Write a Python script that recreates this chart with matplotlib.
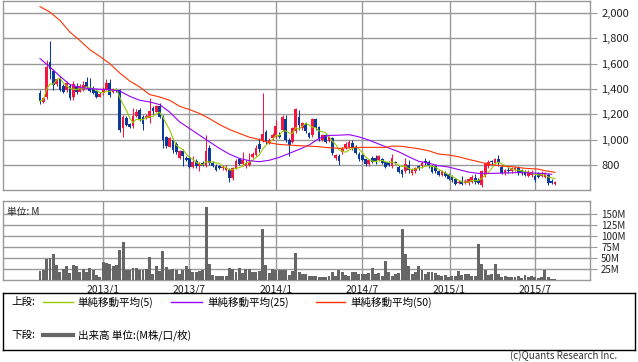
import matplotlib
matplotlib.use("Agg")
import matplotlib.pyplot as plt
import numpy as np
import pandas as pd

plt.rcParams['font.family'] = ['Noto Sans CJK JP', 'DejaVu Sans']

# weekly candles (2012/8 - 2015/8), yen
opens = [1370, 1300, 1335, 1610, 1545, 1440, 1480, 1425, 1395, 1425, 1340, 1425, 1380, 1390, 1455, 1410,
         1400, 1385, 1340, 1365, 1400, 1450, 1375, 1395, 1390, 1090, 1175, 1125, 1105, 1190, 1235, 1180,
         1175, 1170, 1250, 1220, 1265, 1180, 1020, 945, 1000, 970, 855, 915, 860, 860, 785, 835,
         790, 820, 790, 935, 820, 795, 790, 775, 765, 765, 700, 780, 845, 810, 790, 800, 865, 880,
         970, 990, 1060, 978, 1010, 1025, 1040, 1078, 1165, 1000, 985, 1065, 1180, 1090, 1125, 1050,
         1035, 1160, 1100, 1000, 1035, 990, 1010, 855, 870, 900, 935, 945, 975, 945, 890, 880,
         845, 805, 855, 853, 840, 845, 827, 825, 790, 827, 787, 760, 750, 800, 735, 750,
         790, 790, 830, 825, 792, 790, 750, 725, 740, 730, 710, 690, 660, 672, 660, 660,
         670, 700, 685, 640, 720, 790, 830, 815, 845, 787, 735, 765, 750, 765, 775, 760,
         750, 715, 720, 715, 735, 715, 710, 722, 677, 652]
highs = [1390, 1340, 1625, 1775, 1560, 1490, 1500, 1440, 1460, 1440, 1460, 1445, 1440, 1465, 1495, 1490,
         1420, 1400, 1375, 1415, 1475, 1475, 1410, 1405, 1400, 1195, 1190, 1135, 1250, 1245, 1250, 1195,
         1200, 1325, 1265, 1275, 1290, 1195, 1030, 1020, 1010, 985, 920, 930, 870, 875, 870, 850,
         825, 830, 1040, 955, 830, 805, 800, 800, 800, 775, 785, 845, 855, 905, 840, 895, 900, 955,
         1010, 1365, 1075, 1010, 1050, 1155, 1060, 1195, 1195, 1010, 1100, 1250, 1235, 1140, 1140, 1060,
         1170, 1170, 1110, 1045, 1045, 1030, 1020, 890, 885, 945, 985, 995, 1000, 955, 900, 890,
         855, 850, 870, 880, 880, 855, 835, 835, 890, 835, 800, 770, 855, 840, 780, 785,
         800, 830, 855, 840, 800, 800, 760, 760, 750, 740, 720, 700, 680, 715, 690, 700,
         720, 730, 695, 760, 825, 840, 840, 855, 880, 800, 770, 790, 785, 790, 790, 770,
         760, 760, 760, 735, 745, 750, 745, 735, 690, 675]
lows = [1280, 1290, 1320, 1480, 1395, 1420, 1385, 1370, 1380, 1310, 1315, 1360, 1375, 1385, 1405, 1375,
        1360, 1330, 1335, 1355, 1390, 1340, 1365, 1375, 1060, 1025, 1105, 1090, 1095, 1180, 1150, 1075,
        1165, 1130, 1200, 1215, 1170, 935, 935, 940, 895, 890, 850, 790, 830, 775, 780, 780,
        750, 790, 785, 800, 785, 750, 770, 765, 750, 670, 685, 770, 800, 790, 775, 795, 860, 870,
        905, 980, 970, 970, 1000, 1015, 1010, 1070, 985, 870, 975, 1050, 1075, 1080, 1055, 1015,
        1025, 1080, 990, 990, 975, 980, 880, 840, 800, 890, 925, 935, 920, 885, 835, 830,
        795, 795, 820, 805, 830, 805, 780, 795, 775, 805, 735, 710, 735, 735, 725, 740,
        765, 780, 800, 775, 740, 740, 715, 715, 705, 680, 665, 640, 650, 645, 650, 645,
        660, 650, 650, 630, 710, 780, 800, 810, 790, 730, 725, 735, 740, 755, 725, 725,
        715, 705, 710, 670, 700, 705, 700, 645, 650, 645]
closes = [1305, 1325, 1570, 1560, 1430, 1475, 1395, 1380, 1445, 1330, 1440, 1380, 1425, 1430, 1415, 1385,
          1370, 1335, 1360, 1400, 1450, 1355, 1400, 1385, 1080, 1180, 1120, 1100, 1190, 1215, 1160, 1125,
          1185, 1225, 1225, 1265, 1180, 1000, 950, 1010, 920, 905, 910, 870, 840, 785, 825, 790,
          810, 795, 915, 815, 795, 765, 780, 785, 780, 700, 775, 835, 810, 840, 815, 825, 890, 935,
          930, 1045, 985, 1000, 1040, 1105, 1020, 1180, 1000, 960, 1090, 1245, 1115, 1128, 1065, 1025,
          1160, 1090, 1005, 1035, 985, 1020, 895, 880, 830, 930, 970, 985, 935, 895, 845, 840,
          805, 840, 827, 830, 870, 815, 788, 800, 853, 815, 748, 730, 810, 760, 770, 775,
          775, 820, 815, 790, 748, 750, 725, 750, 715, 690, 680, 652, 670, 652, 672, 690,
          710, 665, 660, 755, 810, 825, 822, 845, 815, 740, 760, 752, 775, 780, 735, 735,
          723, 748, 748, 683, 710, 740, 735, 660, 657, 670]
# weekly volume, million shares
volume = [21, 23, 48, 49, 59, 34, 19, 25, 31, 16, 34, 32, 17, 25, 17, 27,
          22, 12, 6, 41, 38, 37, 31, 33, 68, 86, 22, 22, 28, 27, 23, 23,
          25, 52, 14, 32, 21, 66, 30, 23, 24, 23, 14, 23, 32, 25, 18, 19,
          20, 22, 165, 37, 12, 9, 8, 8, 10, 28, 25, 17, 27, 16, 24, 24, 19, 17,
          20, 116, 34, 16, 25, 23, 22, 23, 22, 12, 20, 62, 19, 14, 14, 8,
          10, 10, 7, 6, 6, 8, 17, 10, 22, 19, 12, 10, 17, 17, 14, 13,
          13, 16, 27, 14, 16, 10, 42, 19, 8, 14, 16, 116, 60, 32, 14, 19,
          32, 22, 14, 19, 17, 16, 12, 10, 12, 7, 10, 10, 21, 12, 13, 13,
          10, 8, 81, 37, 23, 12, 14, 37, 14, 7, 8, 6, 7, 7, 8, 4,
          11, 7, 8, 7, 5, 6, 22, 7, 3, 2]

# moving averages (week number, value)
ma25_week = [0, 3, 6, 9, 12, 15, 18, 21, 24, 27, 30, 33, 36, 39, 42, 45, 48, 51, 54, 57, 60, 63,
             66, 69, 72, 75, 78, 81, 84, 87, 90, 93, 96, 99, 102, 105, 108, 111, 114, 117, 120,
             123, 126, 129, 132, 136, 140, 144, 148, 151, 154]
ma25 = [1639, 1573, 1500, 1434, 1411, 1403, 1398, 1395, 1384, 1342, 1311, 1298, 1277, 1219, 1141,
        1089, 1036, 984, 932, 887, 853, 835, 827, 838, 861, 892, 924, 958, 1010, 1034, 1036, 1040,
        1023, 997, 966, 935, 905, 866, 830, 815, 795, 785, 765, 745, 735, 735, 738, 741, 738, 735, 728]
ma50_week = [0, 3, 6, 9, 12, 15, 18, 21, 24, 27, 30, 33, 36, 39, 42, 45, 48, 51, 54, 57, 60, 63,
             66, 69, 72, 75, 78, 81, 84, 87, 90, 95, 104, 106, 109, 111, 114, 117, 120, 123, 126,
             129, 132, 135, 139, 142, 146, 150, 152, 154, 155]
ma50 = [2049, 2005, 1940, 1848, 1782, 1709, 1657, 1600, 1526, 1463, 1416, 1356, 1337, 1311, 1264,
        1238, 1207, 1167, 1120, 1081, 1050, 1020, 1002, 976, 963, 958, 953, 950, 945, 937, 932, 940,
        940, 950, 948, 940, 929, 913, 887, 880, 866, 845, 827, 808, 793, 788, 775, 769, 756, 748, 743]

price_ticks = [800, 1000, 1200, 1400, 1600, 1800, 2000]
price_labels = ['800', '1,000', '1,200', '1,400', '1,600', '1,800', '2,000']
vol_ticks = [25, 50, 75, 100, 125, 150]
vol_labels = ['25M', '50M', '75M', '100M', '125M', '150M']
date_ticks = ['2013-01-01', '2013-07-01', '2014-01-01', '2014-07-01', '2015-01-01', '2015-07-01']
date_labels = ['2013/1', '2013/7', '2014/1', '2014/7', '2015/1', '2015/7']

dates = pd.date_range('2012-08-21', periods=len(closes), freq='7D')
o = np.array(opens); h = np.array(highs); l = np.array(lows); c = np.array(closes)
ma5 = pd.Series(c).rolling(5, min_periods=1).mean()

UP = '#f5163f'
DOWN = '#0b3a9c'
GRID = '#999999'

fig = plt.figure(figsize=(6.38, 3.62), dpi=100)
W, H = 638, 362
ax = fig.add_axes([3 / W, 1 - 190 / H, 587 / W, 189.5 / H])
axv = fig.add_axes([3 / W, 1 - 280 / H, 587 / W, 79 / H])
axl = fig.add_axes([3 / W, 1 - 350 / H, 632 / W, 57 / H])

xlim = (pd.Timestamp('2012-06-04'), pd.Timestamp('2015-10-24'))
tick_dates = pd.to_datetime(date_ticks)

# --- price panel
cols = [UP if cc >= oo else DOWN for oo, cc in zip(o, c)]
ax.vlines(dates, l, h, colors=cols, lw=0.75, zorder=3)
body = np.maximum(np.abs(c - o), 4)
ax.bar(dates, body, bottom=np.minimum(o, c), width=5.8, color=cols, zorder=4)
ax.plot(dates, ma5, color='#99cc00', lw=0.8, zorder=5)
ax.plot(dates[ma25_week], ma25, color='#9900ff', lw=0.8, zorder=5)
ax.plot(dates[ma50_week], ma50, color='#ff3300', lw=0.8, zorder=5)
ax.set_ylim(604, 2097)
ax.set_xlim(*xlim)
ax.set_yticks(price_ticks)
ax.set_yticklabels(price_labels)
ax.set_xticks(tick_dates)
ax.set_xticklabels([])
ax.yaxis.tick_right()
ax.tick_params(axis='y', length=5, color=GRID, labelsize=8, pad=3, labelcolor='#222222')
ax.tick_params(axis='x', length=0)
ax.grid(True, color=GRID, lw=1.0, zorder=0)
for s in ax.spines.values():
    s.set_color(GRID)
    s.set_linewidth(1.0)

# --- volume panel
axv.bar(dates, volume, width=6.2, color='#666666', zorder=3)
axv.set_ylim(0, 179)
axv.set_xlim(*xlim)
axv.set_yticks(vol_ticks)
axv.set_yticklabels(vol_labels)
axv.yaxis.tick_right()
axv.set_xticks(tick_dates)
axv.set_xticklabels(date_labels)
axv.tick_params(axis='y', length=5, color=GRID, labelsize=7, pad=3, labelcolor='#222222')
axv.tick_params(axis='x', length=0, labelsize=7.5, pad=3, labelcolor='#222222')
axv.grid(True, color=GRID, lw=1.0, zorder=0)
for s in axv.spines.values():
    s.set_color(GRID)
    s.set_linewidth(1.0)
axv.text(0.006, 0.93, '単位: M', transform=axv.transAxes, fontsize=7, va='top', ha='left', color='#222222')

# --- legend box
axl.set_xlim(0, 632)
axl.set_ylim(57, 0)
axl.set_xticks([])
axl.set_yticks([])
for s in axl.spines.values():
    s.set_color('black')
    s.set_linewidth(1.0)
fs = 7.6
axl.text(8, 9, '上段:', fontsize=fs, va='center', ha='left')
axl.plot([40, 70], [9, 9], color='#99cc00', lw=1)
axl.text(74, 9, '単純移動平均(5)', fontsize=fs, va='center', ha='left')
axl.plot([168, 199], [9, 9], color='#9900ff', lw=1)
axl.text(204, 9, '単純移動平均(25)', fontsize=fs, va='center', ha='left')
axl.plot([313, 342], [9, 9], color='#ff3300', lw=1)
axl.text(347, 9, '単純移動平均(50)', fontsize=fs, va='center', ha='left')
axl.text(8, 42, '下段:', fontsize=fs, va='center', ha='left')
axl.plot([40, 70], [42, 42], color='#666666', lw=3)
axl.text(75, 42, '出来高 単位:(M株/口/枚)', fontsize=fs, va='center', ha='left')

fig.text(617 / W, 1 - 356 / H, '(c)Quants Research Inc.', fontsize=7, ha='right', va='center', color='#333333')

fig.savefig('out.png', dpi=100)
